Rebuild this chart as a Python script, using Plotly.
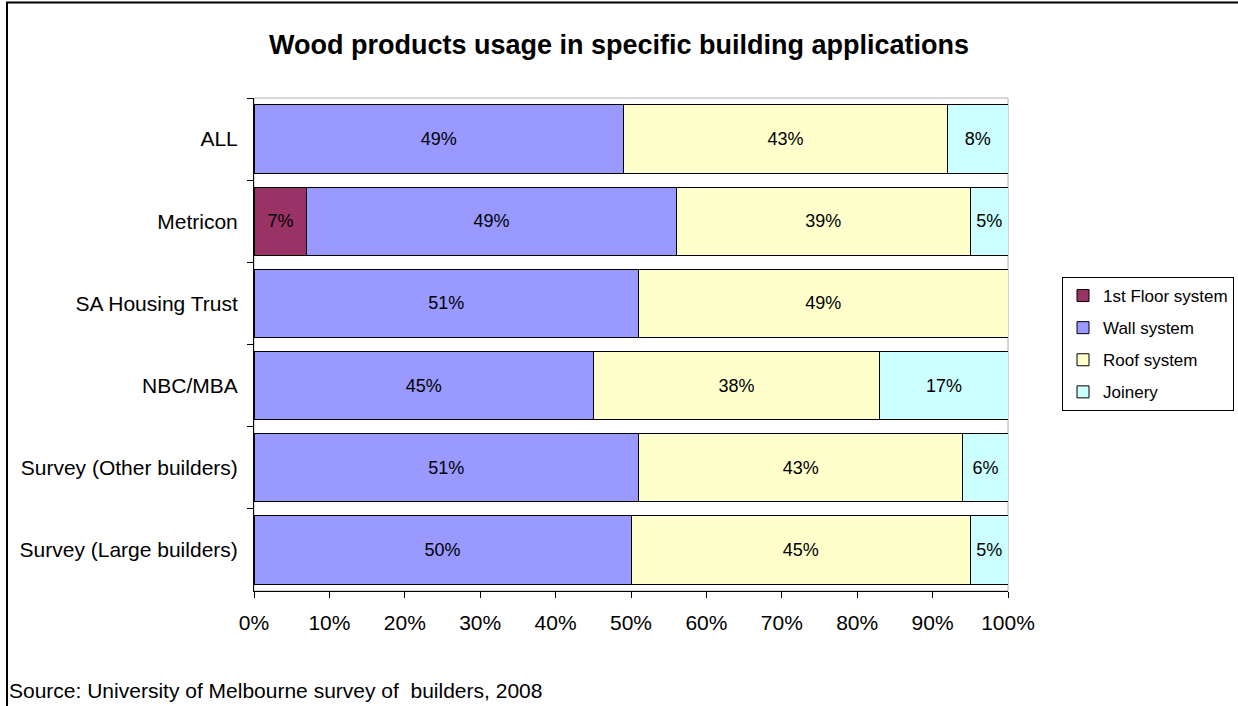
import plotly.graph_objects as go

categories = ["ALL", "Metricon", "SA Housing Trust", "NBC/MBA",
              "Survey (Other builders)", "Survey (Large builders)"]
series_names = ["1st Floor system", "Wall system", "Roof system", "Joinery"]
floor_vals = [0, 7, 0, 0, 0, 0]
wall_vals = [49, 49, 51, 45, 51, 50]
roof_vals = [43, 39, 49, 38, 43, 45]
joinery_vals = [8, 5, 0, 17, 6, 5]
colors = ["#993366", "#9999FF", "#FFFFCC", "#CCFFFF"]
x_ticks = [0, 0.1, 0.2, 0.3, 0.4, 0.5, 0.6, 0.7, 0.8, 0.9, 1.0]

FONT = "Arial, Liberation Sans, sans-serif"
W, H = 1238, 706
L, R, T, B = 254, 1008, 98, 591

fig = go.Figure()
for name, vals, col in zip(series_names, [floor_vals, wall_vals, roof_vals, joinery_vals], colors):
    fig.add_trace(go.Bar(
        y=categories, x=[v / 100 for v in vals], name=name, orientation="h",
        marker=dict(color=col, line=dict(color="black", width=1)),
        text=[f"{v}%" if v > 0 else "" for v in vals],
        textposition="inside", insidetextanchor="middle", textangle=0,
        constraintext="none",
        textfont=dict(family=FONT, size=18, color="black"),
        legendgroup=name, hoverinfo="skip",
    ))

pw, ph = R - L, B - T
def px(x):
    return (x - L) / pw
def py(y):
    return (B - y) / ph

fig.update_layout(
    width=W, height=H, barmode="stack", bargap=0.17, autosize=False,
    margin=dict(l=L, r=W - R, t=T, b=H - B, autoexpand=False),
    paper_bgcolor="white", plot_bgcolor="white",
    font=dict(family=FONT, size=21, color="black"),
    title=dict(text="<b>Wood products usage in specific building applications</b>",
               x=0.5, xref="container", xanchor="center",
               y=1 - 45 / H, yref="container", yanchor="middle",
               font=dict(family=FONT, size=27, color="black")),
    xaxis=dict(range=[0, 1], tickvals=x_ticks, tickformat=".0%", showgrid=False,
               showline=True, linecolor="black", linewidth=1, ticks="outside",
               ticklen=6, tickcolor="black", zeroline=False, automargin=False,
               ticklabelstandoff=7, tickfont=dict(size=21)),
    yaxis=dict(autorange="reversed", showgrid=False, showline=True, linecolor="black",
               linewidth=1, ticks="outside", tickson="boundaries", ticklen=6,
               tickcolor="black", tickfont=dict(size=21), ticklabelstandoff=11,
               automargin=False),
    legend=dict(x=1062 / W, y=1 - 277 / H, xref="container", yref="container",
                xanchor="left", yanchor="top",
                bordercolor="black", borderwidth=1, bgcolor="white",
                font=dict(family=FONT, size=17), traceorder="grouped",
                tracegroupgap=7, itemwidth=30),
    showlegend=True,
)

fig.add_shape(type="rect", xref="paper", yref="paper", x0=0, x1=1, y0=0, y1=1,
              line=dict(color="#b0b0b0", width=1), layer="below")
fig.add_shape(type="rect", xref="paper", yref="paper",
              x0=px(7), x1=px(1250), y0=py(2.5), y1=py(720),
              line=dict(color="black", width=2), layer="above")

fig.add_annotation(text="Source: University of Melbourne survey of  builders, 2008",
                   xref="paper", yref="paper", x=px(7), y=py(690),
                   xanchor="left", yanchor="middle", showarrow=False,
                   font=dict(family=FONT, size=21, color="black"))

fig.write_html("out.html", config={"displayModeBar": False},
               post_script="document.body.style.margin='0';")
